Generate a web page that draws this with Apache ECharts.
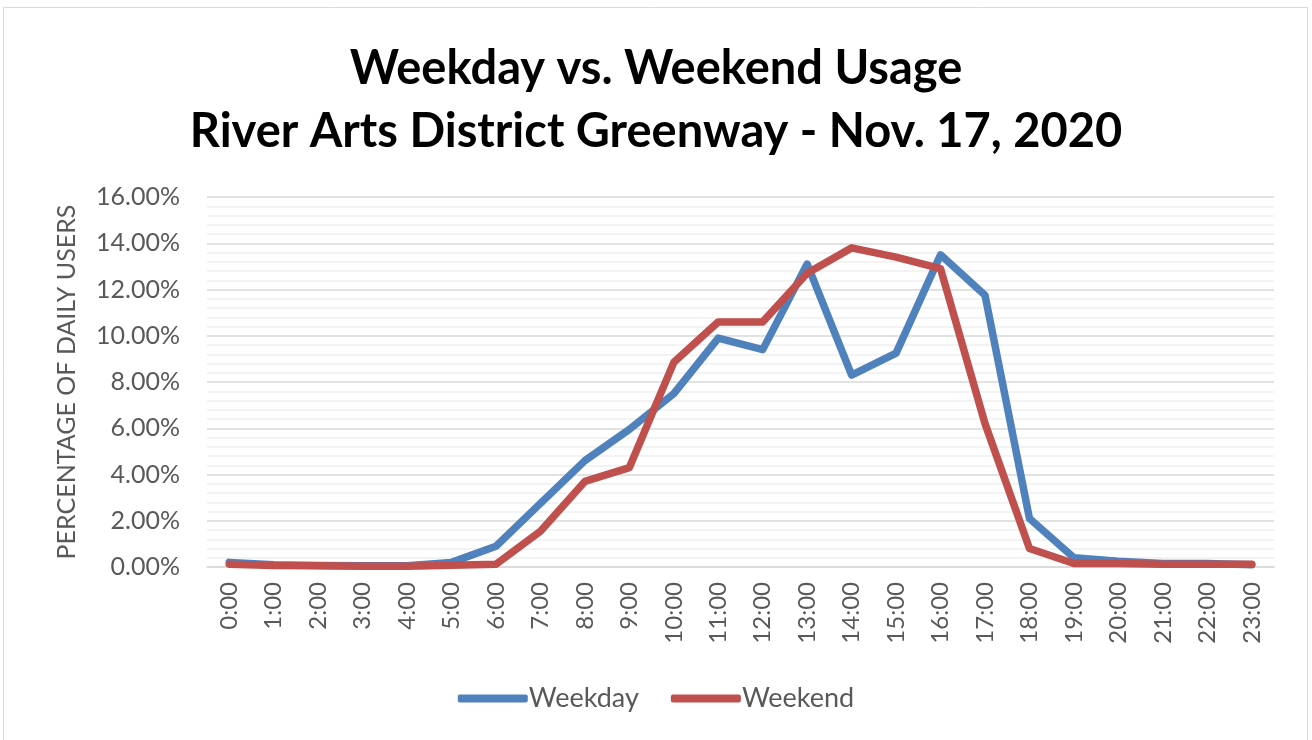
<!DOCTYPE html>
<html lang="en">

<head>
    <meta charset="UTF-8">
    <title>Weekday vs. Weekend Usage</title>
    <style>
        html, body { margin: 0; padding: 0; background: #fff; }
    </style>
</head>

<body>
    <div id="main" style="width: 1312px; height: 740px"></div>
    <script src="https://cdn.jsdelivr.net/npm/echarts@6/dist/echarts.min.js"></script>
    <script type="text/javascript">
        // hours of the day
        var hours = ['0:00', '1:00', '2:00', '3:00', '4:00', '5:00', '6:00', '7:00', '8:00', '9:00', '10:00', '11:00',
            '12:00', '13:00', '14:00', '15:00', '16:00', '17:00', '18:00', '19:00', '20:00', '21:00', '22:00', '23:00'];

        // percent of daily users
        var weekday = [0.2, 0.1, 0.07, 0.05, 0.05, 0.2, 0.9, 2.75, 4.6, 5.95, 7.5, 9.9,
            9.4, 13.1, 8.3, 9.25, 13.5, 11.75, 2.1, 0.4, 0.25, 0.15, 0.15, 0.1];
        var weekend = [0.12, 0.06, 0.05, 0.03, 0.03, 0.08, 0.12, 1.55, 3.7, 4.3, 8.85, 10.6,
            10.6, 12.7, 13.8, 13.4, 12.9, 6.2, 0.8, 0.15, 0.15, 0.12, 0.12, 0.12];

        var myChart = echarts.init(document.getElementById('main'));

        var font = 'Lato, "Open Sans", sans-serif';

        var option = {
            backgroundColor: '#fff',
            textStyle: { fontFamily: font },
            graphic: [{
                type: 'rect',
                shape: { x: 3.5, y: 7.5, width: 1304, height: 740 },
                style: { fill: 'none', stroke: '#d9d9d9', lineWidth: 1 },
                silent: true
            }],
            title: {
                text: 'Weekday vs. Weekend Usage\nRiver Arts District Greenway - Nov. 17, 2020',
                left: 'center',
                top: 32,
                textStyle: {
                    fontFamily: font,
                    fontSize: 47,
                    fontWeight: 'bold',
                    color: '#000',
                    lineHeight: 63
                }
            },
            legend: {
                bottom: 23,
                left: 'center',
                itemWidth: 70,
                itemHeight: 8,
                itemGap: 32,
                icon: 'roundRect',
                textStyle: { fontFamily: font, fontSize: 27, color: '#595959', padding: [0, 0, 0, -4] },
                data: ['Weekday', 'Weekend']
            },
            grid: {
                left: 207,
                right: 38,
                top: 197,
                bottom: 173,
                containLabel: false
            },
            xAxis: {
                type: 'category',
                boundaryGap: true,
                data: hours,
                axisLine: { lineStyle: { color: '#d9d9d9', width: 1.5 } },
                axisTick: { show: false },
                axisLabel: {
                    rotate: 90,
                    margin: 15,
                    fontFamily: font,
                    fontSize: 24,
                    color: '#595959'
                }
            },
            yAxis: {
                type: 'value',
                min: 0,
                max: 16,
                interval: 2,
                name: 'PERCENTAGE OF DAILY USERS',
                nameLocation: 'middle',
                nameGap: 128,
                nameRotate: 90,
                nameTextStyle: { fontFamily: font, fontSize: 25, color: '#595959' },
                axisLine: { show: false },
                axisTick: { show: false },
                axisLabel: {
                    margin: 27,
                    fontFamily: font,
                    fontSize: 25,
                    color: '#595959',
                    formatter: function (v) { return v.toFixed(2) + '%'; }
                },
                splitLine: { lineStyle: { color: '#d9d9d9', width: 1.5 } },
                minorTick: { show: false, splitNumber: 5 },
                minorSplitLine: { show: true, lineStyle: { color: '#f0f0f0', width: 1.5 } }
            },
            series: [{
                name: 'Weekday',
                type: 'line',
                data: weekday,
                showSymbol: false,
                symbol: 'none',
                color: '#4f81bd',
                lineStyle: { width: 7.5, color: '#4f81bd', cap: 'round', join: 'round' }
            }, {
                name: 'Weekend',
                type: 'line',
                data: weekend,
                showSymbol: false,
                symbol: 'none',
                color: '#c0504d',
                lineStyle: { width: 7.5, color: '#c0504d', cap: 'round', join: 'round' }
            }]
        };
        myChart.setOption(option);
    </script>

</body>

</html>
